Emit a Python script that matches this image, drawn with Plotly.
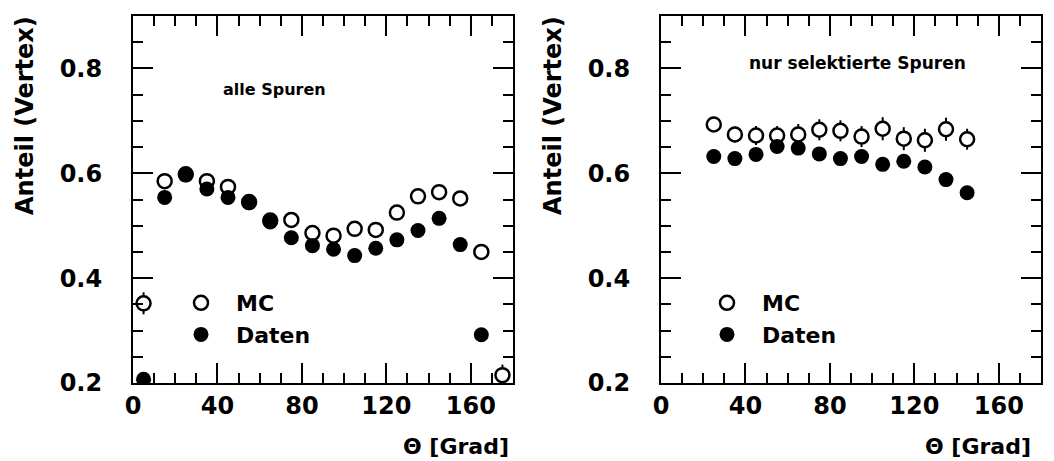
import plotly.graph_objects as go

# bin centres (Grad)
theta_all = [5, 15, 25, 35, 45, 55, 65, 75, 85, 95, 105, 115, 125, 135, 145, 155, 165, 175]
mc_all = [0.352, 0.585, 0.598, 0.585, 0.574, 0.545, 0.510, 0.511, 0.486, 0.481, 0.494, 0.492,
          0.525, 0.556, 0.564, 0.552, 0.450, 0.215]
mc_all_err = [0.021, 0.01, 0.01, 0.01, 0.01, 0.01, 0.01, 0.01, 0.01, 0.01, 0.01, 0.01,
              0.01, 0.01, 0.01, 0.01, 0.01, 0.02]
theta_daten_all = [5, 15, 25, 35, 45, 55, 65, 75, 85, 95, 105, 115, 125, 135, 145, 155, 165]
daten_all = [0.207, 0.554, 0.597, 0.570, 0.554, 0.544, 0.507, 0.477, 0.462, 0.455, 0.443, 0.457,
             0.473, 0.491, 0.514, 0.464, 0.292]

theta_sel = [25, 35, 45, 55, 65, 75, 85, 95, 105, 115, 125, 135, 145]
mc_sel = [0.693, 0.674, 0.672, 0.672, 0.674, 0.683, 0.681, 0.670, 0.685, 0.666, 0.663, 0.684, 0.665]
mc_sel_err = [0.012, 0.015, 0.018, 0.018, 0.02, 0.02, 0.02, 0.02, 0.022, 0.022, 0.022, 0.022, 0.02]
daten_sel = [0.632, 0.628, 0.636, 0.651, 0.648, 0.637, 0.628, 0.632, 0.617, 0.623, 0.612, 0.588, 0.563]

W, H = 1054, 461
FONT = "DejaVu Sans"
OFF = 8  # page body margin

fig = go.Figure()

open_marker = dict(symbol="circle", size=14, color="white", line=dict(width=2.5, color="black"))
full_marker = dict(symbol="circle", size=15, color="black")
err_style = dict(type="data", thickness=2, width=0, color="black")

fig.add_trace(go.Scatter(x=theta_all, y=mc_all, mode="markers", name="MC", marker=open_marker,
                         error_y=dict(array=mc_all_err, **err_style), xaxis="x", yaxis="y", legend="legend"))
fig.add_trace(go.Scatter(x=theta_daten_all, y=daten_all, mode="markers", name="Daten", marker=full_marker,
                         xaxis="x", yaxis="y", legend="legend"))
fig.add_trace(go.Scatter(x=theta_sel, y=mc_sel, mode="markers", name="MC", marker=open_marker,
                         error_y=dict(array=mc_sel_err, **err_style), xaxis="x2", yaxis="y2", legend="legend2"))
fig.add_trace(go.Scatter(x=theta_sel, y=daten_sel, mode="markers", name="Daten", marker=full_marker,
                         xaxis="x2", yaxis="y2", legend="legend2"))

def px_x(p):
    return (p - OFF) / W

def px_y(p):
    return 1 - (p - OFF) / H

tickfont = dict(family=FONT, size=24, color="black", weight="bold")

xax = dict(range=[0, 180], tickvals=[0, 40, 80, 120, 160], ticks="inside", ticklen=20, tickwidth=2,
           minor=dict(dtick=10, ticks="inside", ticklen=10, tickwidth=2, tickcolor="black"),
           showline=True, linewidth=2, linecolor="black", mirror="allticks", showgrid=False,
           zeroline=False, tickfont=tickfont, tickcolor="black", ticklabelstandoff=0, automargin=False)
yax = dict(range=[0.2, 0.9], tickvals=[0.2, 0.4, 0.6, 0.8], tickformat=".1f", ticks="inside", ticklen=20,
           tickwidth=2, minor=dict(dtick=0.05, ticks="inside", ticklen=10, tickwidth=2, tickcolor="black"),
           showline=True, linewidth=2, linecolor="black", mirror="allticks", showgrid=False,
           zeroline=False, tickfont=tickfont, tickcolor="black", ticklabelstandoff=24, automargin=False)

legend_style = dict(font=dict(family=FONT, size=22, color="black", weight="bold"), bgcolor="rgba(0,0,0,0)",
                    itemwidth=60, tracegroupgap=0, xanchor="left", yanchor="top")

fig.update_layout(
    width=W, height=H,
    margin=dict(l=0, r=0, t=0, b=0, autoexpand=False),
    paper_bgcolor="white", plot_bgcolor="white",
    showlegend=True,
    xaxis=dict(domain=[px_x(133), px_x(513)], anchor="y", **xax),
    yaxis=dict(domain=[px_y(383), px_y(16)], anchor="x", **yax),
    xaxis2=dict(domain=[px_x(661), px_x(1041)], anchor="y2", **xax),
    yaxis2=dict(domain=[px_y(383), px_y(16)], anchor="x2", **yax),
    legend=dict(x=px_x(166), y=px_y(282), **legend_style),
    legend2=dict(x=px_x(692), y=px_y(282), **legend_style),
)

ann_font = dict(family=FONT, size=24, color="black", weight="bold")
for xc in (25, 553):
    fig.add_annotation(text="Anteil (Vertex)", textangle=-90, x=px_x(xc), y=px_y(116),
                       xref="paper", yref="paper", showarrow=False, font=ann_font,
                       xanchor="center", yanchor="middle")
for xr in (511, 1033):
    fig.add_annotation(text="\u0398 [Grad]", x=px_x(xr), y=px_y(446), xref="paper", yref="paper",
                       showarrow=False, font=dict(family=FONT, size=22, color="black", weight="bold"),
                       xanchor="right", yanchor="middle")

fig.add_annotation(text="alle Spuren", x=px_x(274), y=px_y(89), xref="paper", yref="paper",
                   xanchor="center", yanchor="middle", showarrow=False,
                   font=dict(family=FONT, size=16, color="black", weight="bold"))
fig.add_annotation(text="nur selektierte Spuren", x=px_x(857), y=px_y(63), xref="paper", yref="paper",
                   xanchor="center", yanchor="middle", showarrow=False,
                   font=dict(family=FONT, size=17, color="black", weight="bold"))

fig.write_html("out.html")
